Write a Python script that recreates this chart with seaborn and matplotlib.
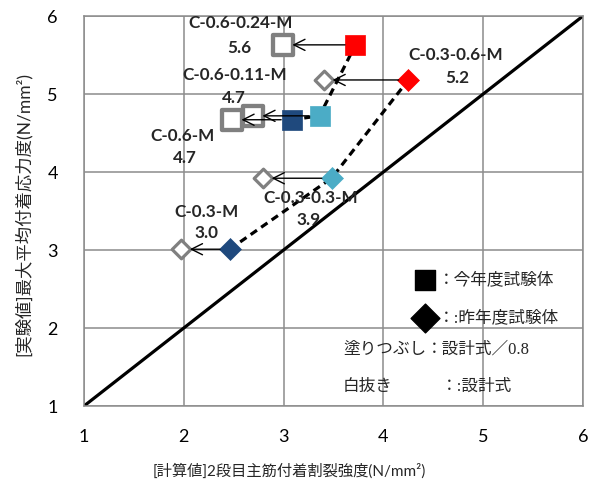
import numpy as np
import pandas as pd
import matplotlib
matplotlib.use("Agg")
import matplotlib.pyplot as plt
import seaborn as sns

# ---- data -------------------------------------------------------------
# this year's specimens (squares)
sq_names = ["C-0.6-M", "C-0.6-0.11-M", "C-0.6-0.24-M"]
sq_calc_design = [2.48, 2.69, 2.99]      # design formula (open)
sq_calc_factored = [3.08, 3.36, 3.72]    # design formula / 0.8 (filled)
sq_test = [4.67, 4.72, 5.63]

# last year's specimens (diamonds)
dm_names = ["C-0.3-M", "C-0.3-0.3-M", "C-0.3-0.6-M"]
dm_calc_design = [1.97, 2.79, 3.40]
dm_calc_factored = [2.46, 3.48, 4.25]
dm_test = [3.01, 3.92, 5.18]

series_colors = ["#1F497D", "#4BACC6", "#FF0000"]
ticks = [1, 2, 3, 4, 5, 6]

# label anchor points (name line, value line) in data units
sq_label_pos = [((1.99, 4.46), (2.01, 4.18)),
                ((2.51, 5.24), (2.50, 4.95)),
                ((2.57, 5.91), (2.56, 5.59))]
dm_label_pos = [((2.23, 3.49), (2.23, 3.22)),
                ((3.27, 3.67), (3.25, 3.39)),
                ((4.72, 5.50), (4.74, 5.20))]

sq = pd.DataFrame({"name": sq_names, "design": sq_calc_design,
                   "factored": sq_calc_factored, "test": sq_test,
                   "color": series_colors})
dm = pd.DataFrame({"name": dm_names, "design": dm_calc_design,
                   "factored": dm_calc_factored, "test": dm_test,
                   "color": series_colors})

# ---- style -------------------------------------------------------------
sns.set_style("white")
sans = ["Lato", "Noto Sans CJK JP", "DejaVu Sans"]
plt.rcParams["font.family"] = sans

fig = plt.figure(figsize=(5.97, 4.90), dpi=100)
ax = fig.add_axes([84 / 597, 1 - 406 / 490, 499 / 597, 390 / 490])

grid_c = "#8C8C8C"
ax.set_xlim(1, 6)
ax.set_ylim(1, 6)
ax.set_xticks(ticks)
ax.set_yticks(ticks)
ax.grid(True, color=grid_c, lw=1.1, zorder=0)
ax.set_axisbelow(True)
for s in ax.spines.values():
    s.set_color(grid_c)
    s.set_linewidth(1.1)
ax.tick_params(axis="both", direction="out", length=5.8, width=1.1,
               color=grid_c, labelsize=13, labelcolor="black")
ax.tick_params(axis="x", pad=11)
ax.tick_params(axis="y", pad=13)

# 1:1 reference line
sns.lineplot(x=[1, 6], y=[1, 6], color="black", lw=2.3, ax=ax, zorder=2)

# dashed trend through the factored (filled) points
for df in (sq, dm):
    sns.lineplot(data=df, x="factored", y="test", color="black", lw=2.3,
                 ax=ax, zorder=2, sort=True, estimator=None,
                 linestyle=(0, (2.4, 1.6)))

# open markers: design formula
sns.scatterplot(data=sq, x="design", y="test", marker="s", s=195,
                color="white", edgecolor="#808080", linewidth=3.1,
                ax=ax, zorder=3)
sns.scatterplot(data=dm, x="design", y="test", marker="D", s=90,
                color="white", edgecolor="#808080", linewidth=2.3,
                ax=ax, zorder=3)

# filled markers: design formula / 0.8
for _, r in sq.iterrows():
    sns.scatterplot(x=[r.factored], y=[r.test], marker="s", s=225,
                    color=r.color, edgecolor=r.color, linewidth=0.5,
                    ax=ax, zorder=4)
for _, r in dm.iterrows():
    sns.scatterplot(x=[r.factored], y=[r.test], marker="D", s=125,
                    color=r.color, edgecolor=r.color, linewidth=0.5,
                    ax=ax, zorder=4)

# arrows from the filled marker to the open marker
arrow_kw = dict(arrowstyle="->", color="black", lw=1.0, mutation_scale=20)
for df, shr in ((sq, 7.5), (dm, 7.0)):
    for _, r in df.iterrows():
        ax.annotate("", xy=(r.design, r.test), xytext=(r.factored, r.test),
                    arrowprops=dict(shrinkA=shr, shrinkB=shr - 0.5, **arrow_kw),
                    zorder=5)

# specimen labels
lab_fs = 12.3
for df, pos in ((sq, sq_label_pos), (dm, dm_label_pos)):
    for (_, r), (p_name, p_val) in zip(df.iterrows(), pos):
        ax.text(*p_name, r["name"], ha="center", va="center",
                fontsize=lab_fs, fontweight="bold", zorder=6)
        ax.text(*p_val, f"{r.test:.1f}", ha="center", va="center",
                fontsize=lab_fs, fontweight="bold", zorder=6)

# key
serif = ["Liberation Serif", "Noto Sans CJK JP"]
key_fs = 12
ax.scatter([4.417], [2.615], marker="s", s=205, color="black", zorder=4)
ax.scatter([4.417], [2.128], marker="D", s=215, color="black", zorder=4)
ax.text(4.55, 2.615, "：今年度試験体", family=serif, fontsize=key_fs,
        va="center", ha="left")
ax.text(4.55, 2.128, "：:昨年度試験体", family=serif, fontsize=key_fs,
        va="center", ha="left")
ax.text(3.595, 1.718, "塗りつぶし", family=serif, fontsize=key_fs,
        va="center", ha="left")
ax.text(4.43, 1.718, "：設計式／0.8", family=serif, fontsize=key_fs,
        va="center", ha="left")
ax.text(3.595, 1.244, "白抜き", family=serif, fontsize=key_fs,
        va="center", ha="left")
ax.text(4.58, 1.244, "：:設計式", family=serif, fontsize=key_fs,
        va="center", ha="left")

# axis titles
ax.set_xlabel("[計算値]2段目主筋付着割裂強度(N/mm²)", fontsize=11,
              family=sans)
ax.set_ylabel("[実験値]最大平均付着応力度(N/mm²)", fontsize=12.5,
              family=sans)
ax.xaxis.set_label_coords((289 - 84) / 499, (406 - 471) / 390)
ax.xaxis.label.set_va("center")
ax.yaxis.set_label_coords((23 - 84) / 499, (406 - 214) / 390)
ax.yaxis.label.set_va("center")

fig.savefig("out.png", dpi=100)
